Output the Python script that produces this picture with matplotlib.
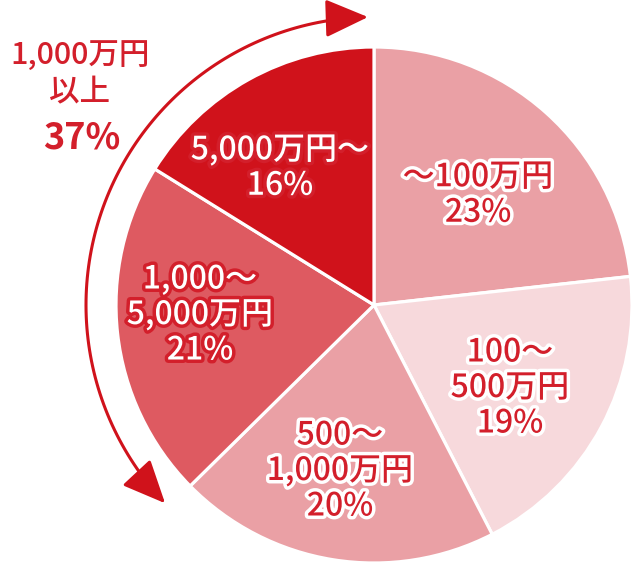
import numpy as np
import matplotlib
matplotlib.use("Agg")
import matplotlib.pyplot as plt
import matplotlib.patheffects as pe
from matplotlib.patches import FancyArrowPatch
from matplotlib.path import Path

plt.rcParams['font.family'] = ['Noto Sans CJK JP', 'DejaVu Sans']

# data
categories = ['～100万円', '100～\n500万円', '500～\n1,000万円', '1,000～\n5,000万円', '5,000万円～']
shares = [23, 19, 20, 21, 16]
colors = ['#eaa0a5', '#f7d9dc', '#eaa0a5', '#de5a61', '#d0121b']
dark = [False, False, False, True, True]
group_label = '1,000万円\n以上'
group_share = 37

red = '#d31f2b'

W, H = 633, 565
fig = plt.figure(figsize=(W / 100, H / 100), dpi=100)
ax = fig.add_axes([0, 0, 1, 1])

cx, cy, R = 374, 260, 258
wedges, _ = ax.pie(shares, startangle=90, counterclock=False, colors=colors,
                   radius=R, center=(cx, cy),
                   wedgeprops=dict(edgecolor='white', linewidth=2.3))
ax.set_xlim(0, W)
ax.set_ylim(0, H)
ax.axis('off')

# label anchor points (pixels, y up)
label_xy = [(478, 370), (510, 177), (340, 94), (200, 250), (280, 397)]
for cat, s, d, (x, y) in zip(categories, shares, dark, label_xy):
    fc = 'white' if d else red
    ec = red if d else 'white'
    ax.text(x, y, f'{cat}\n{s}%', ha='center', va='center', fontsize=23,
            color=fc, linespacing=1.14, fontweight='medium',
            path_effects=[pe.withStroke(linewidth=5, foreground=ec)])

# curved arrow around the top-left group
ra = 288
th = np.radians(np.linspace(91.2, 223.5, 120))
verts = np.column_stack([cx + ra * np.cos(th), cy + ra * np.sin(th)])
arc = FancyArrowPatch(path=Path(verts), arrowstyle='<|-|>,head_length=19,head_width=8.5',
                      color='#d0121b', linewidth=2.2, mutation_scale=1.4)
ax.add_patch(arc)

ax.text(80, 491, group_label, ha='center', va='center', fontsize=22,
        color=red, fontweight='medium', linespacing=1.25)
ax.text(82, 427, f'{group_share}%', ha='center', va='center', fontsize=26,
        color=red, fontweight='bold')

fig.savefig('out.png', dpi=100)
